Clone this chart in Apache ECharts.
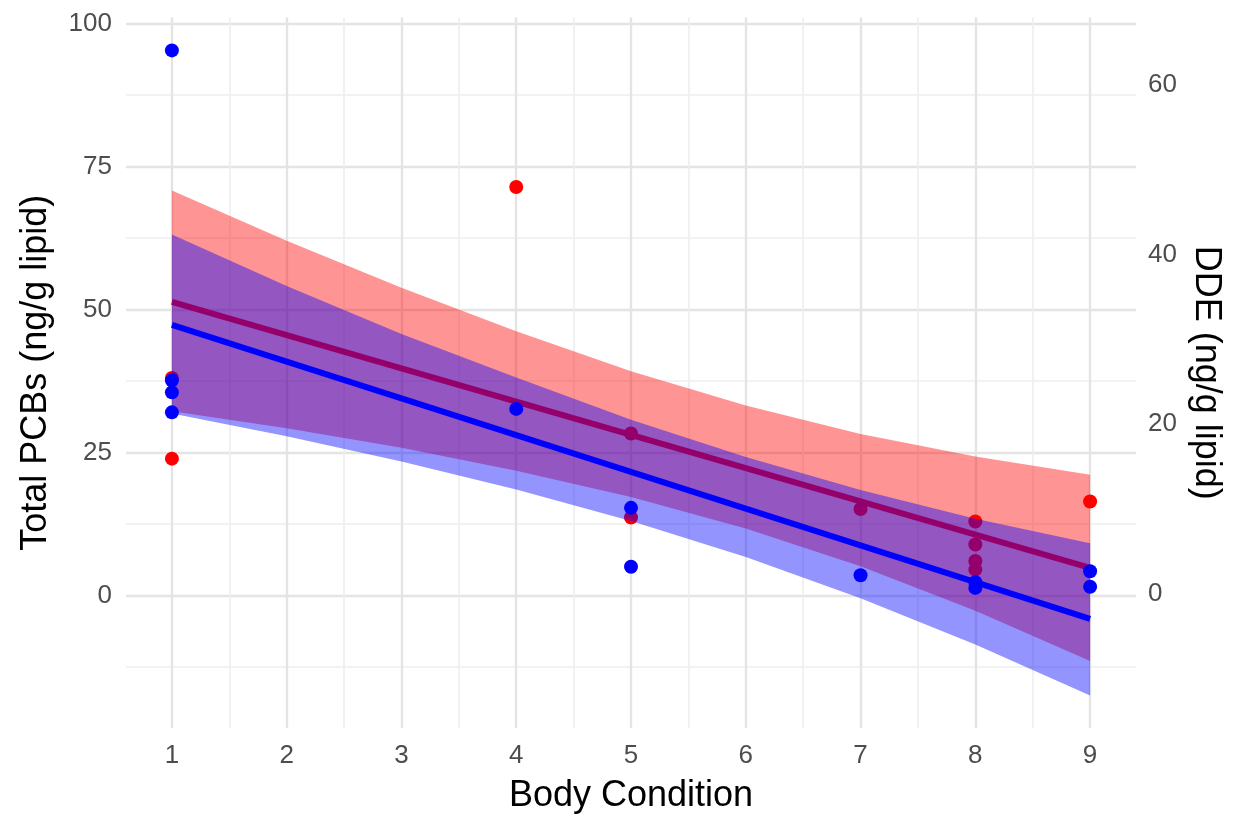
<!DOCTYPE html>
<html>
<head>
<meta charset="utf-8">
<title>Body Condition vs Total PCBs and DDE</title>
<script src="https://cdn.jsdelivr.net/npm/echarts@6/dist/echarts.min.js"></script>
<style>
  html, body { margin: 0; padding: 0; background: #ffffff; }
  #chart { width: 1236px; height: 819px; }
</style>
</head>
<body>
<div id="chart"></div>
<script>
// Body condition tick labels and grid breaks
const xTicks = [1, 2, 3, 4, 5, 6, 7, 8, 9];
const xMinorTicks = [1.5, 2.5, 3.5, 4.5, 5.5, 6.5, 7.5, 8.5];
const yTicks = [0, 25, 50, 75, 100];
const yMinorTicks = [-12.5, 12.5, 37.5, 62.5, 87.5];
const ddeTicks = [0, 20, 40, 60];

// Red group observations (left-axis units)
const redX = [1, 1, 4, 5, 5, 7, 8, 8, 8, 8, 9];
const redY = [38.0, 23.9, 71.4, 28.3, 13.6, 15.1, 12.9, 8.9, 6.0, 4.5, 16.4];

// Blue group observations (left-axis units)
const blueX = [1, 1, 1, 1, 4, 5, 5, 7, 8, 8, 9, 9];
const blueY = [95.3, 37.6, 35.5, 32.0, 32.6, 15.3, 5.0, 3.5, 2.3, 1.3, 4.2, 1.5];

// Fitted trend lines (end points)
const redFitX = [1, 9];
const redFitY = [51.3, 4.8];
const blueFitX = [1, 9];
const blueFitY = [47.3, -4.1];

// Confidence bands sampled at each body condition
const bandX = [1, 2, 3, 4, 5, 6, 7, 8, 9];
const redLower = [32.2, 29.2, 25.8, 21.8, 17.2, 11.7, 5.1, -2.7, -11.5];
const redUpper = [70.8, 62.0, 53.8, 46.2, 39.2, 33.2, 28.2, 24.3, 21.1];
const blueLower = [31.8, 27.8, 23.4, 18.5, 13.0, 6.7, -0.5, -8.6, -17.5];
const blueUpper = [63.1, 54.1, 45.7, 38.1, 30.7, 24.2, 18.4, 13.4, 9.1];

// Panel extent (left axis) and the secondary DDE axis mapping
const xMin = 0.6, xMax = 9.4;
const yMin = -23.2, yMax = 101.05;
const ddeOffset = 0.35, ddeFactor = 1.4817;
const ddeMin = (yMin - ddeOffset) / ddeFactor;
const ddeMax = (yMax - ddeOffset) / ddeFactor;

const FONT = 'Liberation Sans, Arial, Helvetica, sans-serif';
const GRID_MAJOR = '#e4e4e4';
const GRID_MINOR = '#eeeeee';
const TICK_SIZE = 26;
const TITLE_SIZE = 36;

function zip(xs, ys) { return xs.map((x, i) => [x, ys[i]]); }

function bandSeries(lower, upper, color, z) {
  return {
    type: 'custom',
    xAxisIndex: 0,
    yAxisIndex: 0,
    silent: true,
    z: z,
    data: bandX.map((x, i) => [x, lower[i], upper[i]]),
    encode: { x: 0, y: [1, 2] },
    renderItem: function (params, api) {
      if (params.dataIndex !== 0) return null;
      const pts = [];
      for (let i = 0; i < bandX.length; i++) pts.push(api.coord([bandX[i], upper[i]]));
      for (let i = bandX.length - 1; i >= 0; i--) pts.push(api.coord([bandX[i], lower[i]]));
      return {
        type: 'polygon',
        shape: { points: pts },
        style: { fill: color, stroke: null }
      };
    }
  };
}

const chart = echarts.init(document.getElementById('chart'), null, { renderer: 'canvas' });

chart.setOption({
  animation: false,
  backgroundColor: '#ffffff',
  grid: { left: 126, right: 100, top: 17.5, bottom: 90, containLabel: false },
  xAxis: [
    {
      type: 'value', min: xMin, max: xMax, position: 'bottom',
      name: 'Body Condition', nameLocation: 'middle', nameGap: 50,
      nameTextStyle: { fontFamily: FONT, fontSize: TITLE_SIZE, color: '#000000' },
      axisLine: { show: false },
      axisTick: { show: false, customValues: xTicks },
      axisLabel: { customValues: xTicks, fontFamily: FONT, fontSize: TICK_SIZE, color: '#4d4d4d', margin: 15 },
      splitLine: { show: true, lineStyle: { color: GRID_MAJOR, width: 2.4 } }
    },
    {
      type: 'value', min: xMin, max: xMax, position: 'bottom',
      axisLine: { show: false },
      axisTick: { show: false, customValues: xMinorTicks },
      axisLabel: { show: false },
      splitLine: { show: true, lineStyle: { color: GRID_MINOR, width: 1.6 } }
    }
  ],
  yAxis: [
    {
      type: 'value', min: yMin, max: yMax, position: 'left',
      name: 'Total PCBs (ng/g lipid)', nameLocation: 'middle', nameGap: 72,
      nameTextStyle: { fontFamily: FONT, fontSize: TITLE_SIZE, color: '#000000' },
      axisLine: { show: false },
      axisTick: { show: false, customValues: yTicks },
      axisLabel: { customValues: yTicks, fontFamily: FONT, fontSize: TICK_SIZE, color: '#4d4d4d', margin: 14 },
      splitLine: { show: true, lineStyle: { color: GRID_MAJOR, width: 2.4 } }
    },
    {
      type: 'value', min: ddeMin, max: ddeMax, position: 'right',
      name: 'DDE (ng/g lipid)', nameLocation: 'middle', nameGap: 46, nameRotate: -90,
      nameTextStyle: { fontFamily: FONT, fontSize: TITLE_SIZE, color: '#000000' },
      axisLine: { show: false },
      axisTick: { show: false, customValues: ddeTicks },
      axisLabel: { customValues: ddeTicks, fontFamily: FONT, fontSize: TICK_SIZE, color: '#4d4d4d', margin: 12 },
      splitLine: { show: false }
    },
    {
      type: 'value', min: yMin, max: yMax, position: 'left',
      axisLine: { show: false },
      axisTick: { show: false, customValues: yMinorTicks },
      axisLabel: { show: false },
      splitLine: { show: true, lineStyle: { color: GRID_MINOR, width: 1.6 } }
    }
  ],
  series: [
    bandSeries(redLower, redUpper, 'rgba(255,0,0,0.42)', 11),
    {
      type: 'line', xAxisIndex: 0, yAxisIndex: 0, silent: true, z: 12,
      data: zip(redFitX, redFitY), symbol: 'none',
      lineStyle: { color: '#ff0000', width: 6 }
    },
    {
      type: 'scatter', xAxisIndex: 0, yAxisIndex: 0, silent: true, z: 13,
      data: zip(redX, redY), symbolSize: 14,
      itemStyle: { color: '#ff0000', opacity: 1 }
    },
    bandSeries(blueLower, blueUpper, 'rgba(0,0,255,0.42)', 14),
    {
      type: 'line', xAxisIndex: 0, yAxisIndex: 0, silent: true, z: 15,
      data: zip(blueFitX, blueFitY), symbol: 'none',
      lineStyle: { color: '#0000ff', width: 6 }
    },
    {
      type: 'scatter', xAxisIndex: 0, yAxisIndex: 0, silent: true, z: 16,
      data: zip(blueX, blueY), symbolSize: 14,
      itemStyle: { color: '#0000ff', opacity: 1 }
    }
  ]
});
</script>
</body>
</html>
